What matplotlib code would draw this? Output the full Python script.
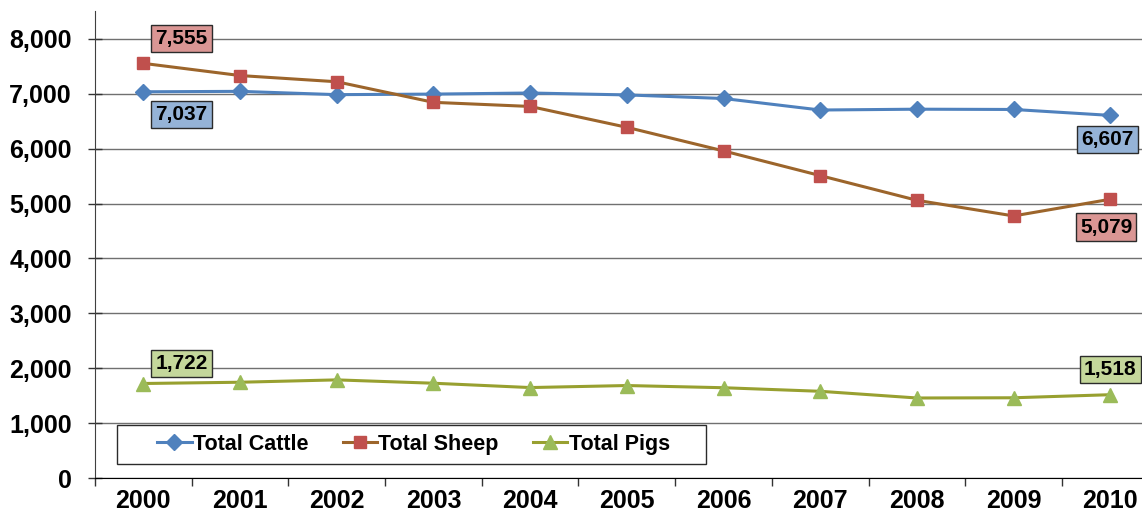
import matplotlib
matplotlib.use("Agg")
import matplotlib.pyplot as plt
from matplotlib.patches import Rectangle
from matplotlib.ticker import FuncFormatter, MultipleLocator, FixedLocator

plt.rcParams['font.family'] = ['Liberation Sans', 'DejaVu Sans']
plt.rcParams['font.weight'] = 'bold'

# Livestock numbers (thousands), 2000-2010
years = ['2000', '2001', '2002', '2003', '2004', '2005', '2006', '2007', '2008', '2009', '2010']
cattle = [7037, 7045, 6985, 6995, 7015, 6980, 6915, 6705, 6720, 6715, 6607]
sheep = [7555, 7333, 7220, 6845, 6770, 6390, 5960, 5510, 5060, 4775, 5079]
pigs = [1722, 1745, 1788, 1727, 1648, 1685, 1645, 1580, 1458, 1462, 1518]

x = list(range(len(years)))

fig = plt.figure(figsize=(11.42, 5.18), dpi=100)
ax = fig.add_axes([0.0832, 0.0772, 0.9314, 0.9006])

ax.plot(x, cattle, color='#4F81BD', lw=2.2, marker='D', ms=8.5,
        mfc='#4F81BD', mec='#4F81BD', label='Total Cattle', zorder=4)
ax.plot(x, sheep, color='#9C652B', lw=2.2, marker='s', ms=9,
        mfc='#C0504D', mec='#C0504D', label='Total Sheep', zorder=4)
ax.plot(x, pigs, color='#98A030', lw=2.2, marker='^', ms=10,
        mfc='#9BBB59', mec='#9BBB59', label='Total Pigs', zorder=4)

ax.set_xlim(-0.5, len(years) - 0.5)
ax.set_ylim(0, 8500)

# y axis
ax.yaxis.set_major_locator(FixedLocator(range(0, 8001, 1000)))
ax.yaxis.set_major_formatter(FuncFormatter(lambda v, p: f'{int(v):,}'))
ax.tick_params(axis='y', direction='inout', length=10, width=1, pad=11.6,
               labelsize=18, color='#333333')
ax.grid(axis='y', color='#707070', lw=1, zorder=0)

# x axis: labels centred, ticks between categories
ax.set_xticks(x)
ax.set_xticklabels(years)
ax.xaxis.set_minor_locator(MultipleLocator(1, offset=0.5))
ax.tick_params(axis='x', which='major', length=0, pad=8, labelsize=18)
ax.tick_params(axis='x', which='minor', direction='out', length=6, width=1,
               color='#333333')
for lbl in ax.get_xticklabels() + ax.get_yticklabels():
    lbl.set_fontweight('bold')

for side in ['top', 'right']:
    ax.spines[side].set_visible(False)
ax.spines['left'].set_color('#404040')
ax.spines['bottom'].set_color('#000000')

# value labels at the first and last years
def tag(xi, yi, dx, dy, fc):
    ax.annotate(f'{yi:,}', (xi, yi), xytext=(dx, dy), textcoords='offset points',
                ha='center', va='center', fontsize=15, fontweight='bold',
                bbox=dict(boxstyle='square,pad=0.2', fc=fc, ec='#2b2b2b', lw=1),
                zorder=6)

tag(0, sheep[0], 27.5, 18, '#DA9694')
tag(0, cattle[0], 27.5, -16.5, '#95B3D7')
tag(10, cattle[-1], -2, -17.5, '#95B3D7')
tag(10, sheep[-1], -3, -20, '#DA9694')
tag(0, pigs[0], 27.5, 14.5, '#C4D79B')
tag(10, pigs[-1], 0, 18, '#C4D79B')

# legend with its own frame
ax.add_patch(Rectangle((0.0207, 0.030), 0.554, 0.0836, transform=ax.transAxes,
                       fc='white', ec='#2b2b2b', lw=1, zorder=5))
leg = ax.legend(loc='center left', bbox_to_anchor=(0.0585, 0.072), ncol=3,
                frameon=False, borderpad=0, borderaxespad=0,
                handlelength=1.6, handletextpad=0.05, columnspacing=1.6,
                prop={'size': 15.5, 'weight': 'bold'})
leg.set_zorder(7)

fig.savefig('out.png', dpi=100)
